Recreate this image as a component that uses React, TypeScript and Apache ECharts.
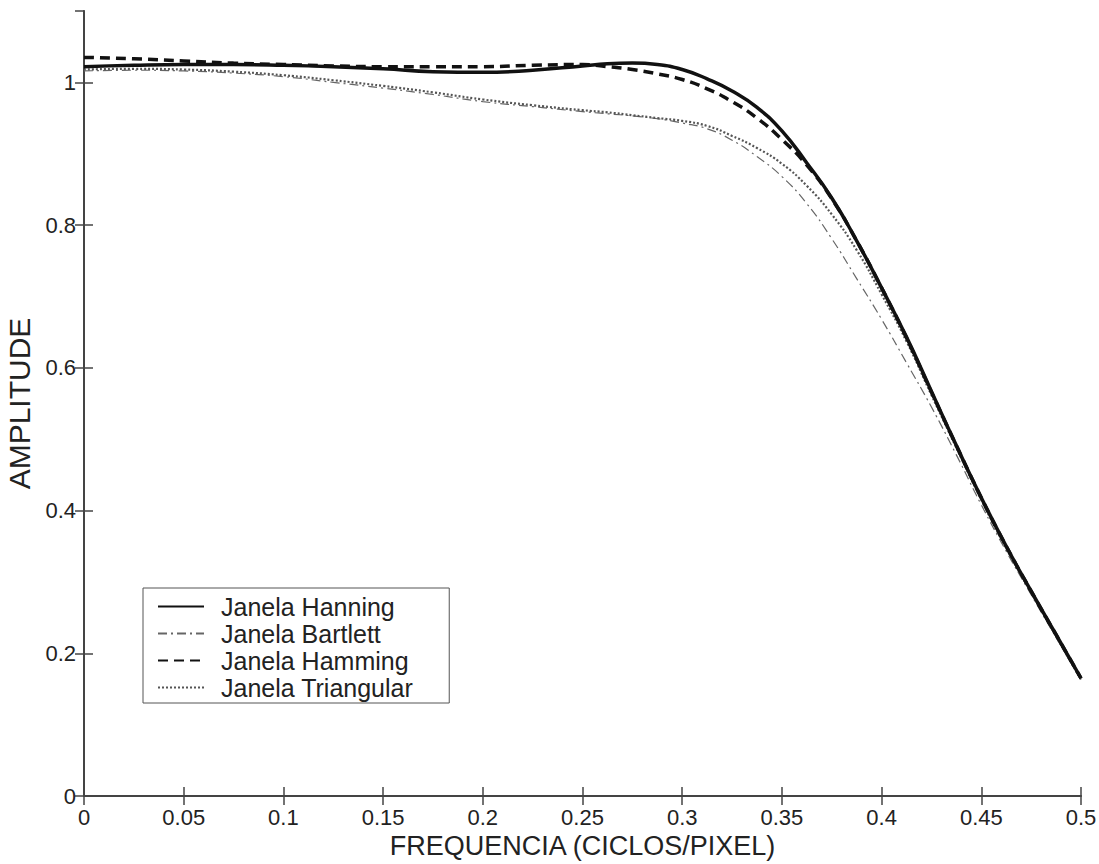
import React, { useEffect, useRef } from "react";
import * as echarts from "echarts";

const freq = [0, 0.025, 0.05, 0.075, 0.1, 0.125, 0.15, 0.175, 0.2, 0.225, 0.25, 0.2625, 0.275, 0.2875, 0.3, 0.3125, 0.325, 0.3375, 0.35, 0.3625, 0.375, 0.3875, 0.4, 0.4125, 0.425, 0.4375, 0.45, 0.4625, 0.475, 0.4875, 0.5];

const hanning = [1.022, 1.024, 1.025, 1.025, 1.024, 1.022, 1.019, 1.015, 1.014, 1.017, 1.023, 1.026, 1.027, 1.025, 1.018, 1.005, 0.988, 0.965, 0.932, 0.887, 0.838, 0.778, 0.712, 0.643, 0.567, 0.491, 0.418, 0.35, 0.287, 0.226, 0.165];
const bartlett = [1.016, 1.017, 1.016, 1.013, 1.008, 1.0, 0.992, 0.983, 0.973, 0.966, 0.959, 0.956, 0.953, 0.949, 0.943, 0.935, 0.919, 0.896, 0.868, 0.83, 0.781, 0.725, 0.668, 0.607, 0.545, 0.478, 0.408, 0.343, 0.282, 0.222, 0.162];
const hamming = [1.035, 1.033, 1.03, 1.027, 1.025, 1.023, 1.022, 1.022, 1.022, 1.024, 1.025, 1.022, 1.018, 1.012, 1.004, 0.991, 0.973, 0.95, 0.92, 0.884, 0.837, 0.778, 0.712, 0.642, 0.566, 0.491, 0.418, 0.35, 0.287, 0.226, 0.165];
const triangular = [1.018, 1.019, 1.018, 1.015, 1.01, 1.003, 0.995, 0.986, 0.976, 0.968, 0.961, 0.958, 0.954, 0.95, 0.946, 0.939, 0.925, 0.908, 0.886, 0.855, 0.815, 0.765, 0.703, 0.637, 0.562, 0.488, 0.415, 0.347, 0.285, 0.224, 0.163];

const seriesNames = ["Janela Hanning", "Janela Bartlett", "Janela Hamming", "Janela Triangular"];
const xTitle = "FREQUENCIA (CICLOS/PIXEL)";
const yTitle = "AMPLITUDE";

const FONT = "'Liberation Sans', Arial, sans-serif";

export default function App() {
  const ref = useRef<HTMLDivElement>(null);
  useEffect(() => {
    if (!ref.current) return;
    const chart = echarts.init(ref.current, undefined, { renderer: "svg" });
    const pts = (ys: number[]) => freq.map((x, i) => [x, ys[i]]);
    const axisCol = "#444";
    const option: any = {
      animation: false,
      backgroundColor: "#fff",
      textStyle: { fontFamily: FONT },
      grid: { left: 84, right: 18, top: 11, bottom: 68, outerBoundsMode: "none", containLabel: false },
      legend: {
        orient: "vertical",
        left: 143,
        top: 588,
        padding: [6, 36, 3, 14],
        itemGap: 2,
        itemWidth: 46,
        itemHeight: 25,
        borderColor: "#555",
        borderWidth: 1,
        backgroundColor: "#fff",
        itemStyle: { opacity: 0 },
        data: seriesNames,
        textStyle: { fontFamily: FONT, fontSize: 25, lineHeight: 25, color: "#222", padding: [0, 0, 0, 12] },
      },
      xAxis: [
        {
          type: "value",
          min: 0,
          max: 0.5,
          interval: 0.05,
          position: "bottom",
          name: xTitle,
          nameLocation: "middle",
          nameGap: 35,
          nameTextStyle: { fontFamily: FONT, fontSize: 27, color: "#222" },
          axisLine: { lineStyle: { color: axisCol, width: 2 } },
          axisTick: { inside: true, length: 9, lineStyle: { color: axisCol, width: 1.5 } },
          axisLabel: { fontFamily: FONT, fontSize: 22, color: "#222", margin: 10 },
          splitLine: { show: false },
        },
        {
          type: "value",
          min: 0,
          max: 0.5,
          interval: 0.05,
          position: "top",
          axisLine: { lineStyle: { color: axisCol, width: 1.5 } },
          axisTick: { inside: true, length: 9, lineStyle: { color: axisCol, width: 1.5 } },
          axisLabel: { show: false },
          splitLine: { show: false },
        },
      ],
      yAxis: [
        {
          type: "value",
          min: 0,
          max: 1.1,
          interval: 0.2,
          position: "left",
          name: yTitle,
          nameLocation: "middle",
          nameGap: 45,
          nameTextStyle: { fontFamily: FONT, fontSize: 30, color: "#222" },
          axisLine: { show: true, lineStyle: { color: axisCol, width: 1.5 } },
          axisTick: { show: true, inside: true, length: 9, lineStyle: { color: axisCol, width: 1.5 } },
          axisLabel: { fontFamily: FONT, fontSize: 22, color: "#222", margin: 8, showMaxLabel: false },
          splitLine: { show: false },
        },
        {
          type: "value",
          min: 0,
          max: 1.1,
          interval: 0.2,
          position: "right",
          axisLine: { show: true, lineStyle: { color: axisCol, width: 2 } },
          axisTick: { show: true, inside: true, length: 9, lineStyle: { color: axisCol, width: 1.5 } },
          axisLabel: { show: false },
          splitLine: { show: false },
        },
      ],
      series: [
        {
          name: seriesNames[1],
          type: "line",
          smooth: true,
          symbol: "none",
          color: "#666",
          data: pts(bartlett),
          z: 2,
          lineStyle: { color: "#666", width: 1.2, type: [9, 4, 2, 4] },
        },
        {
          name: seriesNames[3],
          type: "line",
          smooth: true,
          symbol: "none",
          color: "#555",
          data: pts(triangular),
          z: 3,
          lineStyle: { color: "#555", width: 2.2, type: [2, 2] },
        },
        {
          name: seriesNames[2],
          type: "line",
          smooth: true,
          symbol: "none",
          color: "#111",
          data: pts(hamming),
          z: 4,
          lineStyle: { color: "#111", width: 3.5, type: [10, 6] },
        },
        {
          name: seriesNames[0],
          type: "line",
          smooth: true,
          symbol: "none",
          color: "#111",
          data: pts(hanning),
          z: 5,
          lineStyle: { color: "#111", width: 3.5, type: "solid" },
        },
      ],
    };
    chart.setOption(option);
    return () => chart.dispose();
  }, []);
  return (
    <div
      ref={ref}
      style={{ position: "fixed", left: 0, top: 0, width: 1099, height: 864, background: "#fff" }}
    />
  );
}
